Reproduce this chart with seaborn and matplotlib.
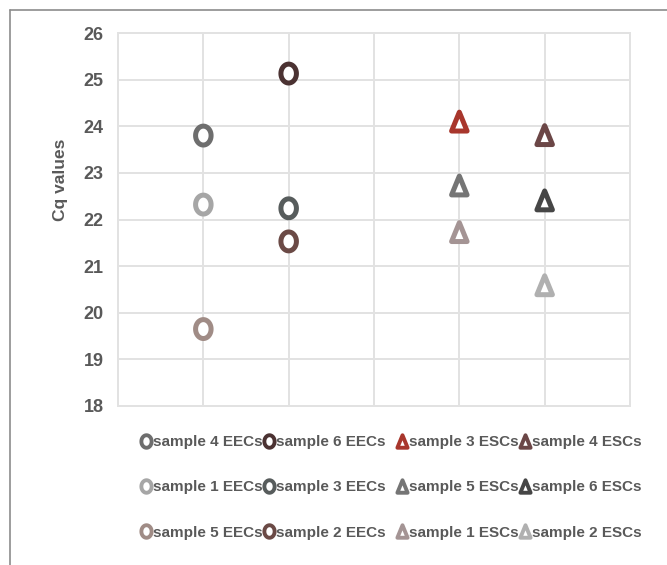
import numpy as np
import pandas as pd
import matplotlib
matplotlib.use("Agg")
import matplotlib.pyplot as plt
from matplotlib.path import Path
from matplotlib.lines import Line2D
import seaborn as sns

# ---- data ----
eec_labels = ["sample 4 EECs", "sample 1 EECs", "sample 5 EECs",
              "sample 6 EECs", "sample 3 EECs", "sample 2 EECs"]
eec_x = [1, 1, 1, 2, 2, 2]
eec_cq = [23.80, 22.32, 19.65, 25.13, 22.24, 21.53]
eec_colors = ["#6e6e6e", "#a6a6a6", "#a08c86", "#4b3232", "#575c5c", "#6b4a46"]

esc_labels = ["sample 3 ESCs", "sample 5 ESCs", "sample 1 ESCs",
              "sample 4 ESCs", "sample 6 ESCs", "sample 2 ESCs"]
esc_x = [4, 4, 4, 5, 5, 5]
esc_cq = [24.10, 22.73, 21.73, 23.81, 22.41, 20.59]
esc_colors = ["#a8362c", "#757575", "#a49494", "#6b4646", "#464646", "#b0b0b0"]

y_ticks = [18, 19, 20, 21, 22, 23, 24, 25, 26]

# ---- styles ----
sns.set_theme(style="white")
plt.rcParams["font.family"] = ["Liberation Sans", "DejaVu Sans"]

t = np.linspace(0, 2 * np.pi, 60)
ell = Path(np.column_stack([0.82 * np.cos(t), np.sin(t)]), closed=True)
tri = Path([(0, 1), (-0.82, -1), (0.82, -1), (0, 1)], closed=True)

df = pd.DataFrame({
    "x": eec_x + esc_x,
    "cq": eec_cq + esc_cq,
    "label": eec_labels + esc_labels,
    "kind": ["EEC"] * 6 + ["ESC"] * 6,
})
palette = dict(zip(eec_labels + esc_labels, eec_colors + esc_colors))

fig = plt.figure(figsize=(6.67, 5.65), dpi=100)
ax = fig.add_axes([118 / 667, 1 - 406 / 565, 512 / 667, 373 / 565])

sns.scatterplot(data=df, x="x", y="cq", hue="label", style="kind",
                markers={"EEC": ell, "ESC": tri}, palette=palette,
                s=185, legend=False, ax=ax)
coll = ax.collections[-1]
fc = coll.get_facecolors()
coll.set_edgecolors(fc)
coll.set_facecolors("white")
coll.set_linewidths(3.6)

ax.set_xlim(0, 6)
ax.set_ylim(18, 26)
ax.set_xticks(range(0, 7))
ax.set_xticklabels([])
ax.set_yticks(y_ticks)
ax.set_yticklabels([str(v) for v in y_ticks], fontsize=13, fontweight="bold",
                   color="#595959")
ax.tick_params(axis="both", length=0, pad=10.5)
ax.grid(True, color="#e2e2e2", linewidth=1.4)
for sp in ax.spines.values():
    sp.set_color("#e2e2e2")
    sp.set_linewidth(1.4)
ax.set_xlabel("")
ax.set_ylabel("Cq values", fontsize=12.5, fontweight="bold", color="#595959")
ax.yaxis.set_label_coords(-0.098, 0.606)

# ---- legends ----
def handles(colors, marker):
    return [Line2D([], [], linestyle="", marker=marker, markersize=9,
                   markerfacecolor="white", markeredgecolor=c,
                   markeredgewidth=2.8) for c in colors]

common = dict(ncol=2, frameon=False, handlelength=0.6, handletextpad=0.15,
              columnspacing=0.12, labelspacing=2.05, borderpad=0,
              borderaxespad=0, prop={"size": 11, "weight": "bold"},
              labelcolor="#595959", loc="upper left",
              bbox_transform=fig.transFigure)

leg1 = ax.legend(handles(eec_colors, ell), eec_labels,
                 bbox_to_anchor=(141.5 / 667, 1 - 435 / 565), **common)
ax.add_artist(leg1)
leg2 = ax.legend(handles(esc_colors, tri), esc_labels,
                 bbox_to_anchor=(397.5 / 667, 1 - 435 / 565), **common)

# outer frame lines (top and left)
fig.add_artist(Line2D([10 / 667, 1], [1 - 10 / 565] * 2, transform=fig.transFigure,
                      color="#8c8c8c", linewidth=1.2))
fig.add_artist(Line2D([10 / 667] * 2, [0, 1 - 10 / 565], transform=fig.transFigure,
                      color="#8c8c8c", linewidth=1.2))

fig.savefig("out.png", dpi=100)
